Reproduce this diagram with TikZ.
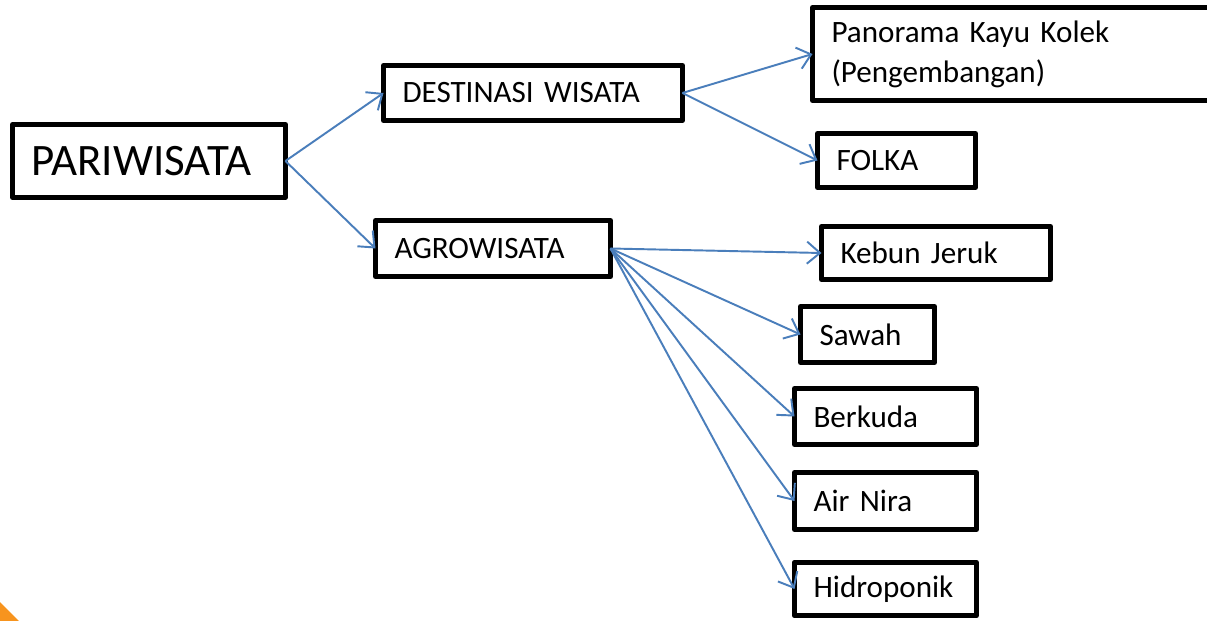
\documentclass[tikz,border=0pt]{standalone}
\usepackage{fontspec}
\setmainfont[WordSpace=0.85]{Carlito}
\usetikzlibrary{arrows.meta}
\definecolor{arrblue}{RGB}{74,126,187}
\definecolor{cornerorange}{RGB}{247,148,30}

\begin{document}
\begin{tikzpicture}[x=0.02cm, y=-0.02cm,
	box/.style = {draw, line width=0.1cm, line join=round, outer sep=0pt, anchor=west, align=left, inner xsep=0.38cm, inner ysep=0pt, font=\fontsize{17.7}{22.7}\selectfont},
	arr/.style = {->, >={Straight Barb[length=0.26cm,width=0.44cm]}, draw=arrblue, line width=1.1pt}]
	\clip (0,0) rectangle (1207,621);
	\fill[white] (0,0) rectangle (1207,621);
	\fill[cornerorange] (0,602) -- (0,621) -- (19,621) -- cycle;

	\node[box, text width=4.7cm, minimum height=1.46cm, font=\fontsize{25.6}{30}\selectfont] (pariwisata) at (12.5,161) {PARIWISATA};
	\node[box, text width=5.22cm, minimum height=1.1cm] (destinasi) at (383.5,93) {DESTINASI WISATA};
	\node[box, text width=3.94cm, minimum height=1.12cm] (agro) at (375.5,248.5) {AGROWISATA};

	\node[box, text width=7.54cm, minimum height=1.86cm] (panorama) at (812.5,54) {Panorama Kayu Kolek\\(Pengembangan)};
	\node[box, text width=2.4cm, minimum height=1.08cm] (folka) at (817.5,160.5) {FOLKA};

	\node[box, text width=3.82cm, minimum height=1.06cm] (kebun) at (821.5,253) {Kebun Jeruk};
	\node[box, text width=1.92cm, minimum height=1.12cm] (sawah) at (800.5,334.5) {Sawah};
	\node[box, text width=2.88cm, minimum height=1.12cm] (berkuda) at (794.5,416.5) {Berkuda};
	\node[box, text width=2.88cm, minimum height=1.14cm] (airnira) at (794.5,501) {Air Nira};
	\node[box, text width=2.88cm, minimum height=1.07cm] (hidro) at (794.5,589) {Hidroponik};

	\draw[arr] (pariwisata.east) -- (destinasi.west);
	\draw[arr] (pariwisata.east) -- (agro.west);
	\draw[arr] (destinasi.east) -- (panorama.west);
	\draw[arr] (destinasi.east) -- (folka.west);
	\foreach \t in {kebun,sawah,berkuda,airnira,hidro}
		\draw[arr] (agro.east) -- (\t.west);
\end{tikzpicture}
\end{document}
